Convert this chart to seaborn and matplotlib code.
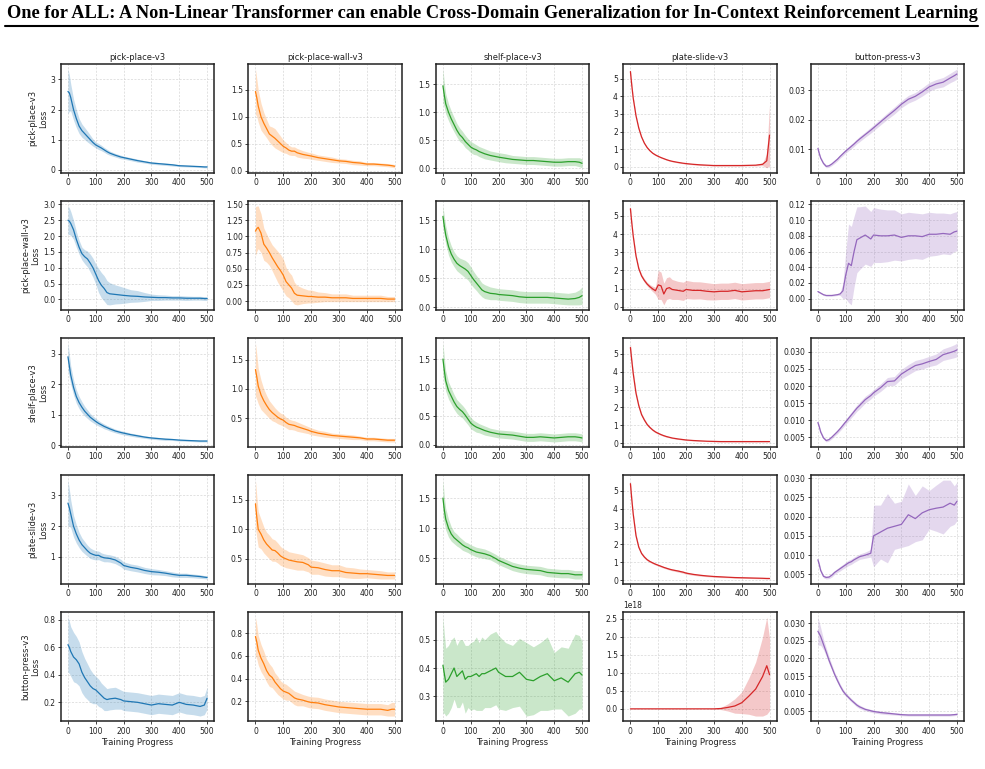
import numpy as np
import matplotlib
matplotlib.use("Agg")
import matplotlib.pyplot as plt
import seaborn as sns
from matplotlib.ticker import MultipleLocator
from matplotlib.lines import Line2D

# ---------------- data ----------------
tasks = ["pick-place-v3", "pick-place-wall-v3", "shelf-place-v3", "plate-slide-v3", "button-press-v3"]
title = "One for ALL: A Non-Linear Transformer can enable Cross-Domain Generalization for In-Context Reinforcement Learning"
xlabel = "Training Progress"
colors = ["#1f77b4", "#ff7f0e", "#2ca02c", "#d62728", "#9467bd"]

steps = [0, 5, 10, 20, 30, 40, 50, 60, 70, 80, 90, 100, 110, 120, 130, 140, 150, 170, 190, 200,
         225, 250, 275, 300, 325, 350, 375, 400, 425, 450, 475, 490, 500]

# row 1: trained on pick-place-v3
r1c1_mean = [2.6,2.55,2.4,2.0,1.7,1.45,1.3,1.2,1.1,1.0,0.9,0.82,0.77,0.72,0.66,0.6,0.55,0.48,0.42,0.4,0.35,0.3,0.26,0.22,0.2,0.18,0.16,0.13,0.12,0.11,0.1,0.09,0.09]
r1c1_std = [0.75,0.6,0.45,0.35,0.3,0.25,0.22,0.2,0.18,0.15,0.12,0.1,0.1,0.09,0.08,0.08,0.07,0.06,0.06,0.05,0.05,0.05,0.04,0.04,0.04,0.04,0.04,0.03,0.03,0.03,0.03,0.03,0.03]
r1c2_mean = [1.47,1.35,1.2,1.0,0.88,0.78,0.68,0.64,0.6,0.55,0.5,0.45,0.42,0.38,0.36,0.36,0.33,0.3,0.28,0.27,0.24,0.22,0.2,0.18,0.17,0.15,0.14,0.12,0.12,0.11,0.1,0.09,0.08]
r1c2_std = [0.42,0.35,0.3,0.25,0.2,0.17,0.15,0.17,0.18,0.16,0.14,0.12,0.1,0.09,0.08,0.08,0.08,0.07,0.06,0.06,0.05,0.05,0.05,0.04,0.04,0.04,0.04,0.03,0.03,0.03,0.03,0.03,0.03]
r1c3_mean = [1.47,1.3,1.15,1.0,0.88,0.78,0.68,0.6,0.55,0.48,0.43,0.38,0.35,0.33,0.3,0.28,0.26,0.23,0.21,0.2,0.18,0.16,0.15,0.14,0.14,0.13,0.12,0.11,0.11,0.12,0.12,0.11,0.09]
r1c3_std = [0.3,0.22,0.18,0.15,0.14,0.13,0.12,0.12,0.11,0.11,0.1,0.1,0.1,0.09,0.09,0.09,0.09,0.08,0.08,0.08,0.08,0.07,0.07,0.07,0.07,0.07,0.07,0.07,0.07,0.07,0.07,0.08,0.08]
r1c4_mean = [5.4,4.6,3.9,2.9,2.2,1.7,1.35,1.1,0.92,0.78,0.68,0.6,0.53,0.47,0.41,0.36,0.32,0.26,0.21,0.19,0.15,0.12,0.1,0.08,0.08,0.08,0.08,0.08,0.09,0.1,0.15,0.35,1.8]
r1c4_std = [0.15,0.12,0.1,0.08,0.07,0.06,0.05,0.05,0.04,0.04,0.04,0.03,0.03,0.03,0.03,0.03,0.03,0.03,0.03,0.03,0.03,0.03,0.03,0.03,0.03,0.03,0.03,0.03,0.03,0.04,0.08,0.4,1.75]
r1c5_mean = [0.0103,0.0085,0.007,0.0052,0.0042,0.0044,0.005,0.0058,0.0066,0.0076,0.0085,0.0094,0.0102,0.011,0.0118,0.0127,0.0135,0.015,0.0165,0.0173,0.0193,0.0213,0.0232,0.0253,0.027,0.028,0.0295,0.0312,0.0322,0.0328,0.0342,0.035,0.0356]
r1c5_std = [0.0006,0.0006,0.0005,0.0005,0.0005,0.0005,0.0005,0.0006,0.0006,0.0006,0.0007,0.0007,0.0007,0.0008,0.0008,0.0008,0.0009,0.0009,0.001,0.001,0.001,0.0011,0.0012,0.0012,0.0013,0.0013,0.0014,0.0015,0.0015,0.0016,0.0016,0.0017,0.0017]

# row 2: trained on pick-place-wall-v3
r2c1_mean = [2.5,2.47,2.4,2.2,1.9,1.65,1.45,1.35,1.28,1.15,1.0,0.8,0.6,0.45,0.35,0.22,0.18,0.16,0.14,0.13,0.11,0.1,0.08,0.07,0.06,0.06,0.05,0.05,0.04,0.04,0.04,0.03,0.03]
r2c1_std = [0.45,0.42,0.38,0.3,0.25,0.22,0.2,0.22,0.25,0.28,0.3,0.32,0.38,0.4,0.4,0.38,0.35,0.3,0.27,0.25,0.2,0.18,0.14,0.1,0.09,0.08,0.07,0.07,0.07,0.06,0.06,0.06,0.06]
r2c2_mean = [1.08,1.12,1.14,1.05,0.88,0.82,0.75,0.67,0.6,0.53,0.47,0.4,0.3,0.25,0.2,0.12,0.09,0.08,0.07,0.07,0.06,0.06,0.05,0.05,0.05,0.04,0.04,0.04,0.04,0.04,0.03,0.03,0.03]
r2c2_std = [0.38,0.35,0.33,0.3,0.25,0.22,0.2,0.2,0.22,0.24,0.25,0.25,0.22,0.2,0.2,0.17,0.15,0.12,0.1,0.1,0.08,0.07,0.06,0.06,0.06,0.05,0.05,0.05,0.05,0.05,0.04,0.04,0.04]
r2c3_mean = [1.57,1.4,1.25,1.05,0.92,0.83,0.76,0.72,0.69,0.66,0.62,0.55,0.48,0.42,0.36,0.3,0.27,0.24,0.23,0.22,0.21,0.2,0.18,0.17,0.17,0.17,0.17,0.16,0.15,0.14,0.15,0.17,0.2]
r2c3_std = [0.18,0.17,0.16,0.15,0.14,0.13,0.13,0.13,0.14,0.15,0.15,0.15,0.14,0.13,0.13,0.12,0.12,0.11,0.1,0.1,0.1,0.1,0.1,0.1,0.1,0.1,0.1,0.1,0.1,0.1,0.11,0.13,0.15]
r2c4_mean = [5.4,4.6,3.9,2.8,2.1,1.7,1.45,1.25,1.1,0.98,0.88,1.2,1.15,0.7,1.0,1.05,0.95,0.9,0.85,0.95,0.9,0.9,0.85,0.82,0.85,0.85,0.9,0.82,0.85,0.88,0.88,0.92,0.95]
r2c4_std = [0.15,0.13,0.12,0.1,0.1,0.1,0.1,0.1,0.12,0.15,0.2,0.8,0.75,0.6,0.6,0.6,0.55,0.5,0.5,0.5,0.48,0.47,0.47,0.45,0.45,0.45,0.45,0.45,0.45,0.45,0.45,0.45,0.45]
r2c5_mean = [0.009,0.008,0.007,0.005,0.004,0.004,0.004,0.0045,0.005,0.006,0.01,0.03,0.045,0.042,0.06,0.075,0.077,0.081,0.076,0.081,0.08,0.08,0.081,0.078,0.08,0.08,0.079,0.082,0.082,0.083,0.082,0.085,0.086]
r2c5_std = [0.001,0.001,0.001,0.001,0.001,0.001,0.001,0.001,0.001,0.002,0.01,0.03,0.05,0.05,0.045,0.042,0.04,0.037,0.035,0.035,0.034,0.033,0.032,0.03,0.03,0.029,0.029,0.028,0.027,0.026,0.026,0.025,0.025]

# row 3: trained on shelf-place-v3
r3c1_mean = [2.9,2.6,2.3,1.9,1.6,1.4,1.25,1.12,1.02,0.92,0.85,0.78,0.72,0.67,0.62,0.58,0.54,0.47,0.42,0.4,0.35,0.31,0.27,0.24,0.22,0.2,0.19,0.17,0.16,0.15,0.14,0.14,0.14]
r3c1_std = [0.45,0.38,0.3,0.25,0.22,0.2,0.18,0.16,0.14,0.12,0.11,0.1,0.09,0.08,0.08,0.07,0.07,0.06,0.06,0.06,0.05,0.05,0.04,0.04,0.04,0.04,0.03,0.03,0.03,0.03,0.03,0.03,0.03]
r3c2_mean = [1.33,1.2,1.05,0.9,0.8,0.72,0.65,0.6,0.56,0.52,0.49,0.47,0.43,0.4,0.39,0.38,0.36,0.33,0.3,0.28,0.25,0.23,0.21,0.2,0.19,0.18,0.17,0.15,0.15,0.14,0.13,0.13,0.13]
r3c2_std = [0.45,0.38,0.3,0.25,0.2,0.17,0.15,0.14,0.12,0.11,0.1,0.1,0.09,0.09,0.08,0.08,0.08,0.07,0.06,0.06,0.05,0.05,0.04,0.04,0.04,0.04,0.03,0.03,0.03,0.03,0.03,0.03,0.03]
r3c3_mean = [1.5,1.3,1.12,0.95,0.85,0.75,0.67,0.62,0.58,0.52,0.45,0.38,0.34,0.31,0.29,0.27,0.25,0.22,0.2,0.19,0.18,0.17,0.15,0.13,0.13,0.14,0.13,0.12,0.13,0.14,0.14,0.13,0.12]
r3c3_std = [0.28,0.22,0.18,0.15,0.14,0.13,0.12,0.12,0.11,0.11,0.1,0.1,0.09,0.09,0.08,0.08,0.08,0.07,0.07,0.07,0.07,0.07,0.07,0.07,0.07,0.07,0.07,0.07,0.07,0.07,0.07,0.07,0.07]
r3c4_mean = [5.35,4.6,3.9,2.8,2.1,1.6,1.3,1.05,0.88,0.74,0.63,0.55,0.48,0.42,0.37,0.33,0.29,0.24,0.2,0.18,0.15,0.13,0.11,0.1,0.09,0.09,0.09,0.09,0.09,0.09,0.09,0.09,0.09]
r3c4_std = [0.25,0.2,0.16,0.12,0.1,0.09,0.08,0.07,0.06,0.05,0.05,0.05,0.04,0.04,0.04,0.03,0.03,0.03,0.03,0.03,0.02,0.02,0.02,0.02,0.02,0.02,0.02,0.02,0.02,0.02,0.02,0.02,0.02]
r3c5_mean = [0.0093,0.008,0.0065,0.0048,0.004,0.0043,0.005,0.0058,0.0066,0.0075,0.0085,0.0095,0.0105,0.0115,0.0125,0.0135,0.0143,0.016,0.0172,0.018,0.0195,0.0213,0.0215,0.0235,0.0248,0.026,0.0265,0.0272,0.0278,0.0292,0.0298,0.0302,0.0306]
r3c5_std = [0.0005,0.0005,0.0005,0.0004,0.0004,0.0004,0.0005,0.0005,0.0006,0.0006,0.0007,0.0007,0.0008,0.0008,0.0009,0.0009,0.001,0.001,0.001,0.001,0.0011,0.0012,0.0013,0.0014,0.0015,0.0015,0.0015,0.0015,0.0016,0.0017,0.0018,0.0019,0.002]

# row 4: trained on plate-slide-v3
r4c1_mean = [2.75,2.6,2.4,2.0,1.75,1.55,1.4,1.3,1.2,1.12,1.08,1.05,1.05,1.0,0.97,0.96,0.95,0.9,0.8,0.72,0.66,0.62,0.56,0.52,0.5,0.47,0.43,0.4,0.4,0.38,0.36,0.34,0.33]
r4c1_std = [0.75,0.6,0.45,0.35,0.3,0.25,0.22,0.2,0.18,0.17,0.16,0.15,0.14,0.13,0.13,0.12,0.12,0.12,0.12,0.12,0.11,0.11,0.1,0.1,0.09,0.08,0.08,0.07,0.07,0.06,0.06,0.05,0.05]
r4c2_mean = [1.43,1.2,1.0,0.92,0.82,0.75,0.7,0.65,0.64,0.6,0.55,0.52,0.5,0.48,0.47,0.46,0.45,0.44,0.4,0.36,0.35,0.32,0.3,0.3,0.27,0.26,0.25,0.25,0.24,0.23,0.22,0.22,0.22]
r4c2_std = [0.4,0.35,0.3,0.25,0.22,0.2,0.2,0.19,0.18,0.17,0.16,0.15,0.15,0.14,0.14,0.14,0.14,0.13,0.12,0.12,0.11,0.11,0.1,0.1,0.09,0.09,0.08,0.07,0.07,0.07,0.06,0.06,0.06]
r4c3_mean = [1.5,1.3,1.15,1.0,0.9,0.84,0.8,0.76,0.72,0.69,0.67,0.64,0.62,0.6,0.59,0.58,0.57,0.54,0.49,0.46,0.41,0.36,0.33,0.31,0.3,0.29,0.26,0.25,0.24,0.24,0.22,0.22,0.22]
r4c3_std = [0.3,0.22,0.18,0.15,0.12,0.1,0.1,0.09,0.09,0.08,0.08,0.08,0.08,0.08,0.08,0.08,0.08,0.07,0.07,0.07,0.07,0.07,0.07,0.07,0.07,0.07,0.07,0.07,0.07,0.07,0.07,0.07,0.07]
r4c4_mean = [5.4,4.5,3.7,2.5,1.85,1.5,1.3,1.15,1.05,0.97,0.9,0.84,0.78,0.72,0.67,0.62,0.58,0.52,0.45,0.4,0.33,0.28,0.24,0.21,0.19,0.17,0.15,0.14,0.13,0.12,0.11,0.1,0.1]
r4c4_std = [0.2,0.16,0.13,0.1,0.08,0.07,0.07,0.06,0.05,0.05,0.05,0.05,0.05,0.05,0.05,0.05,0.05,0.06,0.06,0.06,0.05,0.05,0.04,0.04,0.04,0.03,0.03,0.03,0.03,0.03,0.03,0.03,0.03]
r4c5_mean = [0.0088,0.0075,0.006,0.0045,0.0042,0.0043,0.0048,0.0055,0.006,0.0065,0.007,0.0075,0.008,0.0083,0.0088,0.0092,0.0096,0.01,0.0105,0.015,0.016,0.017,0.0175,0.018,0.0205,0.0195,0.021,0.0218,0.0222,0.0225,0.0235,0.023,0.024]
r4c5_std = [0.0005,0.0005,0.0005,0.0004,0.0004,0.0004,0.0005,0.0005,0.0005,0.0006,0.0006,0.0007,0.0007,0.0007,0.0007,0.0007,0.0007,0.0008,0.001,0.008,0.007,0.009,0.006,0.006,0.008,0.006,0.007,0.005,0.006,0.007,0.006,0.005,0.005]

# row 5: trained on button-press-v3
r5c1_mean = [0.62,0.6,0.57,0.53,0.51,0.48,0.42,0.38,0.35,0.32,0.3,0.29,0.27,0.25,0.23,0.22,0.225,0.23,0.22,0.21,0.205,0.2,0.19,0.18,0.19,0.185,0.18,0.2,0.185,0.18,0.17,0.18,0.23]
r5c1_std = [0.2,0.19,0.18,0.18,0.17,0.16,0.15,0.14,0.13,0.12,0.11,0.1,0.1,0.09,0.09,0.08,0.08,0.08,0.07,0.07,0.07,0.07,0.07,0.07,0.07,0.07,0.07,0.07,0.07,0.07,0.07,0.07,0.08]
r5c2_mean = [0.77,0.72,0.65,0.58,0.53,0.47,0.43,0.41,0.37,0.34,0.31,0.29,0.28,0.27,0.25,0.23,0.22,0.21,0.195,0.19,0.185,0.17,0.16,0.15,0.145,0.14,0.135,0.13,0.13,0.13,0.12,0.13,0.13]
r5c2_std = [0.17,0.15,0.13,0.12,0.11,0.1,0.1,0.09,0.08,0.08,0.07,0.07,0.07,0.06,0.06,0.06,0.06,0.05,0.05,0.05,0.05,0.05,0.05,0.05,0.05,0.05,0.05,0.05,0.05,0.05,0.05,0.06,0.06]
r5c3_mean = [0.41,0.38,0.35,0.36,0.38,0.4,0.37,0.38,0.39,0.36,0.37,0.37,0.375,0.38,0.37,0.38,0.38,0.39,0.4,0.385,0.37,0.37,0.385,0.36,0.355,0.37,0.38,0.355,0.365,0.35,0.38,0.385,0.375]
r5c3_std = [0.17,0.14,0.12,0.12,0.12,0.11,0.11,0.12,0.11,0.12,0.11,0.12,0.12,0.13,0.12,0.13,0.12,0.13,0.13,0.13,0.12,0.11,0.12,0.13,0.12,0.12,0.13,0.1,0.11,0.12,0.14,0.13,0.12]
r5c4_scale = 1e18
r5c4_mean = [0.0,0.0,0.0,0.0,0.0,0.0,0.0,0.0,0.0,0.0,0.0,0.0,0.0,0.0,0.0,0.0,0.0,0.0,0.0,0.0,0.0,0.0,0.0,0.0,0.01,0.04,0.08,0.17,0.35,0.55,0.9,1.2,0.95]
r5c4_std = [0.0,0.0,0.0,0.0,0.0,0.0,0.0,0.0,0.0,0.0,0.0,0.0,0.0,0.0,0.0,0.0,0.0,0.0,0.0,0.0,0.0,0.0,0.0,0.005,0.03,0.1,0.2,0.3,0.5,0.75,1.1,1.35,1.0]
r5c5_mean = [0.0277,0.027,0.0262,0.024,0.0218,0.0195,0.0175,0.0155,0.0138,0.0122,0.0108,0.0098,0.009,0.0082,0.0075,0.0068,0.0063,0.0056,0.0052,0.005,0.0047,0.0045,0.0043,0.0041,0.004,0.004,0.004,0.004,0.004,0.004,0.004,0.0041,0.0042]
r5c5_std = [0.004,0.0032,0.0025,0.0015,0.0012,0.001,0.0008,0.0007,0.0007,0.0006,0.0006,0.0005,0.0005,0.0005,0.0005,0.0005,0.0005,0.0004,0.0004,0.0004,0.0004,0.0004,0.0003,0.0003,0.0003,0.0003,0.0003,0.0003,0.0003,0.0003,0.0003,0.0003,0.0003]

# y tick spacing per panel (row-major)
ytick_step = [
    [1, 0.5, 0.5, 1, 0.01],
    [0.5, 0.25, 0.5, 1, 0.02],
    [1, 0.5, 0.5, 1, 0.005],
    [1, 0.5, 0.5, 1, 0.005],
    [0.2, 0.2, 0.1, 0.5e18, 0.005],
]

means = [
    [r1c1_mean, r1c2_mean, r1c3_mean, r1c4_mean, r1c5_mean],
    [r2c1_mean, r2c2_mean, r2c3_mean, r2c4_mean, r2c5_mean],
    [r3c1_mean, r3c2_mean, r3c3_mean, r3c4_mean, r3c5_mean],
    [r4c1_mean, r4c2_mean, r4c3_mean, r4c4_mean, r4c5_mean],
    [r5c1_mean, r5c2_mean, r5c3_mean, [v * r5c4_scale for v in r5c4_mean], r5c5_mean],
]
stds = [
    [r1c1_std, r1c2_std, r1c3_std, r1c4_std, r1c5_std],
    [r2c1_std, r2c2_std, r2c3_std, r2c4_std, r2c5_std],
    [r3c1_std, r3c2_std, r3c3_std, r3c4_std, r3c5_std],
    [r4c1_std, r4c2_std, r4c3_std, r4c4_std, r4c5_std],
    [r5c1_std, r5c2_std, r5c3_std, [v * r5c4_scale for v in r5c4_std], r5c5_std],
]

# ---------------- plotting ----------------
sns.set_style("ticks")
plt.rcParams["font.family"] = ["DejaVu Sans"]
plt.rcParams["axes.edgecolor"] = "#222222"
plt.rcParams["axes.linewidth"] = 1.1

fig, axes = plt.subplots(5, 5, figsize=(9.85, 7.69), dpi=100)
fig.subplots_adjust(left=61 / 985, right=964 / 985, top=1 - 64 / 769, bottom=1 - 721 / 769,
                    wspace=0.225, hspace=0.26)

x = np.array(steps, dtype=float)
for r in range(5):
    for c in range(5):
        ax = axes[r, c]
        m = np.array(means[r][c], dtype=float)
        s = np.array(stds[r][c], dtype=float)
        ax.fill_between(x, m - s, m + s, color=colors[c], alpha=0.25, linewidth=0)
        sns.lineplot(x=x, y=m, ax=ax, color=colors[c], linewidth=0.9)
        ax.grid(True, linestyle=(0, (3, 2)), color="#cccccc", linewidth=0.5, alpha=0.8)
        ax.set_axisbelow(True)
        ax.xaxis.set_major_locator(MultipleLocator(100))
        ax.yaxis.set_major_locator(MultipleLocator(ytick_step[r][c]))
        ax.tick_params(labelsize=5.5, length=2.5, width=0.6, pad=1.5, colors="#222222")
        ax.yaxis.get_offset_text().set_fontsize(5.5)
        for sp in ax.spines.values():
            sp.set_visible(True)
            sp.set_color("#222222")
        if r == 0:
            ax.set_title(tasks[c], fontsize=6, pad=3, color="#222222")
        if c == 0:
            ax.set_ylabel(tasks[r] + "\nLoss", fontsize=6, labelpad=2, color="#222222")
        else:
            ax.set_ylabel("")
        if r == 4:
            ax.set_xlabel(xlabel, fontsize=6, labelpad=1.5, color="#222222")
        else:
            ax.set_xlabel("")

fig.text(0.5, 1 - 13 / 769, title, ha="center", va="center", fontsize=13.2,
         fontweight="bold", color="black", family=["Liberation Serif", "DejaVu Serif"])
fig.add_artist(Line2D([5 / 985, 978 / 985], [1 - 26 / 769, 1 - 26 / 769],
                      transform=fig.transFigure, color="black", linewidth=1.5))

fig.savefig("out.png", dpi=100)
